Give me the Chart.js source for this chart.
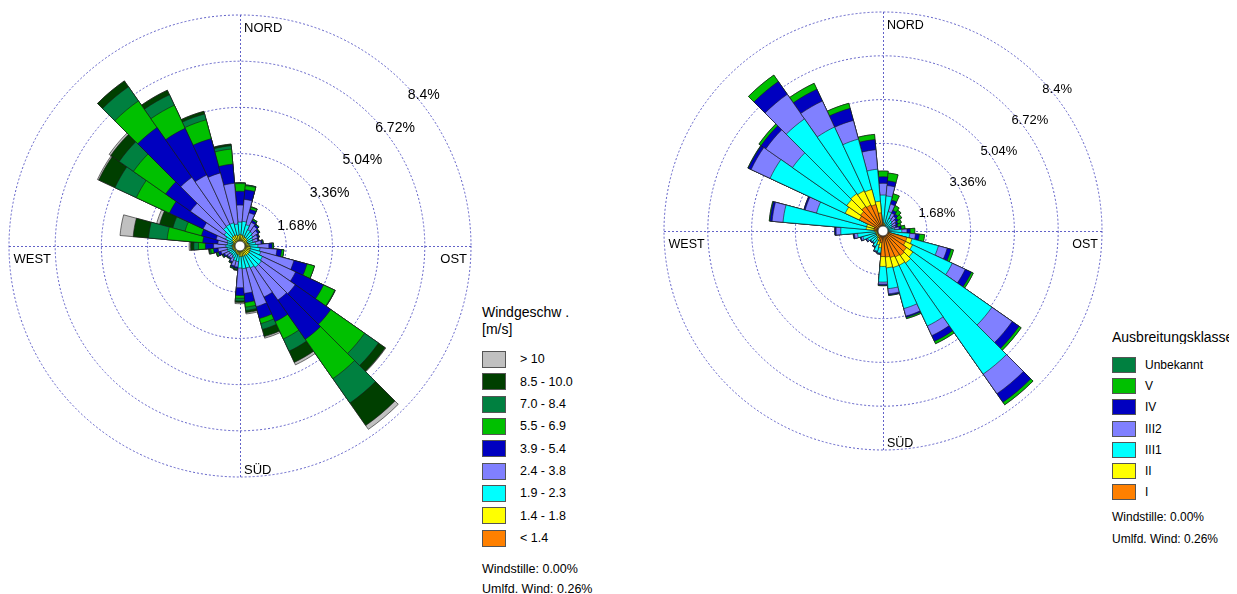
<!DOCTYPE html>
<html><head><meta charset="utf-8">
<script src="https://cdn.jsdelivr.net/npm/chart.js@4.4.1/dist/chart.umd.min.js"></script>
<style>
body{margin:0;background:#fff;font-family:"Liberation Sans",Arial,sans-serif;}
#wrap{position:relative;width:1237px;height:594px;overflow:hidden;background:#fff;}
canvas{position:absolute;}
.lg{position:absolute;color:#000;white-space:nowrap;}
.box{position:absolute;box-sizing:border-box;border:1px solid #555;}
</style></head><body><div id="wrap">
<canvas id="c1" width="470" height="470" style="left:5px;top:11px"></canvas>
<canvas id="c2" width="450" height="450" style="left:658px;top:6px"></canvas>
</div>
<script>
// ---- categories (sector centre directions) ----
const directions = ['0°','10°','20°','30°','40°','50°','60°','70°','80°','90°','100°','110°','120°','130°','140°','150°','160°','170°','180°','190°','200°','210°','220°','230°','240°','250°','260°','270°','280°','290°','300°','310°','320°','330°','340°','350°'];
const ringValues = [1.68, 3.36, 5.04, 6.72, 8.4];
const ringLabels = ['1.68%','3.36%','5.04%','6.72%','8.4%'];
const compassLabels = ['NORD','OST','SÜD','WEST'];

// ---- left rose: wind speed classes [% per sector] ----
const ws_lt_1_4   = [.12,.1,.1,.1,.1,.1,.09,.09,.1,.1,.1,.1,.1,.1,.1,.1,.1,.1,.1,.1,.1,.09,.09,.09,.09,.09,.09,.09,.08,.08,.08,.1,.12,.12,.12,.1];
const ws_1_4_1_8  = [.3,.3,.28,.25,.25,.22,.2,.2,.22,.25,.28,.28,.3,.3,.3,.28,.28,.28,.28,.22,.2,.18,.16,.16,.17,.18,.18,.2,.18,.18,.2,.25,.3,.3,.3,.28];
const ws_1_9_2_3  = [.45,.5,.42,.3,.28,.25,.22,.2,.25,.3,.35,.4,.5,.55,.55,.5,.45,.45,.42,.25,.25,.2,.17,.17,.18,.2,.2,.22,.2,.22,.3,.35,.43,.45,.45,.42];
const ws_2_4_3_8  = [.62,.8,.45,.3,.25,.22,.2,.18,.2,.4,.62,1.25,1.33,1.5,1.45,1.17,1.45,.9,.72,.2,.2,.16,.13,.14,.18,.25,.33,.45,.35,.42,.9,1.5,2.2,1.98,1.88,1.49];
const ws_3_9_5_4  = [.5,.35,.13,.08,.07,.06,.05,.04,.05,.12,.17,.49,1.12,1.58,1.74,.98,.45,.33,.28,.05,.05,.04,.03,.04,.06,.1,.17,.3,.55,.55,1.35,1.1,2.21,1.87,1.29,.7];
const ws_5_5_6_9  = [.28,.15,.08,.05,.03,.03,.02,.01,.03,.05,.08,.28,.45,1.5,1.75,.7,.19,.17,.1,.03,.03,.02,.02,.02,.03,.05,.1,.25,1.3,.62,1.33,1.43,1.18,.93,.71,.55];
const ws_7_0_8_4  = [.03,.03,.02,0,0,0,0,0,0,0,0,0,.02,.62,1.08,.49,.22,.12,.1,.02,.01,.01,0,0,.01,.02,.05,.17,.68,.46,.86,.63,.63,.42,.22,.12];
const ws_8_5_10   = [0,0,0,0,0,0,0,0,0,0,0,0,0,.3,1.0,.45,.27,.08,.05,.02,.01,0,0,0,0,.01,.02,.12,.56,.5,.65,.38,.26,.18,.1,.06];
const ws_gt_10    = [0,0,0,0,0,0,0,0,0,0,0,0,0,.02,.17,.1,.06,.05,.05,.01,0,0,0,0,0,0,.01,.05,.48,.11,.05,.07,0,0,0,0];
const wsLabels = ['< 1.4','1.4 - 1.8','1.9 - 2.3','2.4 - 3.8','3.9 - 5.4','5.5 - 6.9','7.0 - 8.4','8.5 - 10.0','> 10'];
const wsColors = ['#FF8000','#FFFF00','#00FFFF','#8080FF','#0000C0','#00C000','#008040','#003F00','#C0C0C0'];

// ---- right rose: stability classes [% per sector] ----
const st_I    = [.2,.18,.12,.1,.1,.09,.09,.08,.09,.12,.15,.95,.95,1.1,1.15,1.1,1.05,1.0,.98,.45,.4,.3,.25,.22,.2,.2,.2,.22,.35,.35,1.0,1.05,1.15,1.1,1.05,.7];
const st_II   = [.12,.1,.05,.04,.04,.04,.03,.03,.04,.05,.06,.2,.3,.3,.35,.35,.4,.42,.38,.2,.15,.1,.08,.08,.08,.08,.08,.1,.3,.3,.6,.65,.6,.6,.6,.45];
const st_III1 = [1.06,1.07,.6,.4,.35,.3,.27,.25,.32,.55,.82,1.05,1.68,3.7,5.2,2.57,1.63,.8,.6,.2,.25,.25,.22,.27,.37,.52,.7,1.3,3.2,1.99,3.18,2.54,3.5,2.7,2.0,1.23];
const st_III2 = [.45,.4,.3,.22,.2,.18,.16,.15,.17,.2,.22,.35,.55,.95,.92,.41,.3,.2,.08,.03,.03,.03,.03,.03,.05,.07,.12,.18,.42,.45,.8,1.25,1.15,1.1,.74,.75];
const st_IV   = [.25,.18,.16,.12,.11,.1,.09,.08,.09,.12,.15,.15,.26,.32,.4,.24,.05,.04,.04,.02,.02,.02,.02,.02,.02,.03,.04,.04,.08,.05,.12,.22,.6,.5,.48,.39];
const st_V    = [.22,.3,.25,.2,.18,.17,.14,.13,.14,.18,.2,.1,.08,.1,.12,.1,.05,.02,.02,0,0,0,0,0,0,0,.01,.01,.03,0,.02,.1,.3,.25,.2,.2];
const st_Unb  = [0,0,0,0,0,0,0,0,0,0,0,0,0,0,0,0,0,0,0,0,0,0,0,0,0,0,0,0,0,0,0,0,0,0,0,0];
const stLabels = ['I','II','III1','III2','IV','V','Unbekannt'];
const stColors = ['#FF8000','#FFFF00','#00FFFF','#8080FF','#0000C0','#00C000','#008040'];

const windstille = 'Windstille: 0.00%';
const umlfd = 'Umlfd. Wind: 0.26%';

// ---- helpers ----
function stackedDatasets(classes, colors){
  // cumulative sums; dataset 0 (innermost) is drawn last, i.e. on top
  const out = []; let run = directions.map(()=>0);
  classes.forEach((arr,k)=>{
    run = run.map((v,i)=>Math.round((v+arr[i])*1000)/1000);
    out.push({data: run.slice(), backgroundColor: colors[k], borderColor:'#1a1a1a', borderWidth:0.6});
  });
  return out;
}

const rosePlugin = {
  id:'rose',
  beforeDatasetsDraw(chart, args, o){
    const s = chart.scales.r, ctx = chart.ctx;
    const cx = s.xCenter, cy = s.yCenter, R = s.drawingArea;
    ctx.save();
    ctx.strokeStyle = o.gridColor; ctx.lineWidth = 1; ctx.setLineDash([2,2]);
    ctx.beginPath();
    ctx.moveTo(cx+0.5, cy-R); ctx.lineTo(cx+0.5, cy+R);
    ctx.moveTo(cx-R, cy+0.5); ctx.lineTo(cx+R, cy+0.5);
    ctx.stroke();
    ctx.restore();
  },
  afterDatasetsDraw(chart, args, o){
    const s = chart.scales.r, ctx = chart.ctx;
    const cx = s.xCenter, cy = s.yCenter, R = s.drawingArea;
    ctx.save();
    // centre hole
    ctx.beginPath(); ctx.arc(cx, cy, 5, 0, Math.PI*2);
    ctx.fillStyle = '#fff'; ctx.fill();
    ctx.lineWidth = 0.8; ctx.strokeStyle = '#333'; ctx.stroke();
    // compass labels
    ctx.fillStyle = '#000';
    ctx.font = o.compassFont + 'px "Liberation Sans", Arial, sans-serif';
    ctx.textBaseline = 'alphabetic';
    ctx.textAlign = 'left';  ctx.fillText(compassLabels[0], cx+4, cy-R+16.5);
    ctx.textAlign = 'right'; ctx.fillText(compassLabels[1], cx+R-4, cy+17);
    ctx.textAlign = 'left';  ctx.fillText(compassLabels[2], cx+4, cy+R-3);
    ctx.textAlign = 'left';  ctx.fillText(compassLabels[3], cx-R+4.5, cy+17);
    // ring labels along the 45° diagonal
    ctx.font = o.ringFont + 'px "Liberation Sans", Arial, sans-serif';
    ringValues.forEach((v,i)=>{
      const d = s.getDistanceFromCenterForValue(v);
      const px = cx + d*Math.SQRT1_2, py = cy - d*Math.SQRT1_2;
      ctx.fillText(ringLabels[i], px+4.5, py+16.5);
    });
    ctx.restore();
  }
};

function makeRose(id, classes, colors, pad, ringFont, compassFont){
  return new Chart(document.getElementById(id), {
    type:'polarArea',
    data:{labels: directions, datasets: stackedDatasets(classes, colors)},
    options:{
      responsive:false, animation:false,
      layout:{padding:pad},
      plugins:{legend:{display:false}, tooltip:{enabled:false},
        rose:{gridColor:'rgba(70,70,190,0.85)', ringFont, compassFont}},
      scales:{r:{
        min:0, max:8.4, startAngle:-5,
        ticks:{display:false},
        afterBuildTicks:(sc)=>{ sc.ticks = [{value:0}].concat(ringValues.map(v=>({value:v}))); },
        grid:{circular:true, color:'rgba(70,70,190,0.85)', lineWidth:1},
        border:{dash:[2,2]},
        angleLines:{display:false},
        pointLabels:{display:false}
      }}
    },
    plugins:[rosePlugin]
  });
}

makeRose('c1', [ws_lt_1_4, ws_1_4_1_8, ws_1_9_2_3, ws_2_4_3_8, ws_3_9_5_4, ws_5_5_6_9, ws_7_0_8_4, ws_8_5_10, ws_gt_10], wsColors, 4, 14, 13);
makeRose('c2', [st_I, st_II, st_III1, st_III2, st_IV, st_V, st_Unb], stColors, 6, 13, 12.5);

// ---- legends (HTML text) ----
const wrap = document.getElementById('wrap');
function addText(txt, left, top, size, extra){
  const d = document.createElement('div');
  d.className = 'lg'; d.textContent = txt;
  d.style.left = left+'px'; d.style.top = top+'px';
  d.style.fontSize = size+'px'; d.style.lineHeight = size+'px';
  if (extra) Object.assign(d.style, extra);
  wrap.appendChild(d); return d;
}
function addLegend(cfg){
  addText(cfg.title[0], cfg.x, cfg.titleTop, 14, cfg.titleClip ? {width:cfg.titleClip+'px', overflow:'hidden'} : null);
  if (cfg.title[1]) addText(cfg.title[1], cfg.x, cfg.titleTop+17, 14);
  const n = cfg.labels.length;
  for (let j=0;j<n;j++){
    const k = n-1-j; // outermost class first
    const top = cfg.boxTop + j*cfg.step;
    const b = document.createElement('div');
    b.className = 'box';
    Object.assign(b.style,{left:cfg.x+'px', top:top+'px', width:cfg.bw+'px', height:cfg.bh+'px', background:cfg.colors[k]});
    wrap.appendChild(b);
    addText(cfg.labels[k], cfg.textX, top + cfg.bh/2 - cfg.fs/2, cfg.fs);
  }
  addText(windstille, cfg.x, cfg.footTop, cfg.fs);
  addText(umlfd, cfg.x, cfg.footTop + cfg.footStep, cfg.fs);
}
addLegend({title:['Windgeschw .','[m/s]'], x:482, titleTop:305, boxTop:351, step:22.35, bw:24, bh:17,
  textX:520, fs:12.5, labels:wsLabels, colors:wsColors, footTop:562.5, footStep:20.5});
addLegend({title:['Ausbreitungsklasse'], titleClip:117, x:1112, titleTop:330, boxTop:357, step:21.2, bw:24, bh:16,
  textX:1145, fs:12, labels:stLabels, colors:stColors, footTop:510.5, footStep:22});
</script>
</body></html>
